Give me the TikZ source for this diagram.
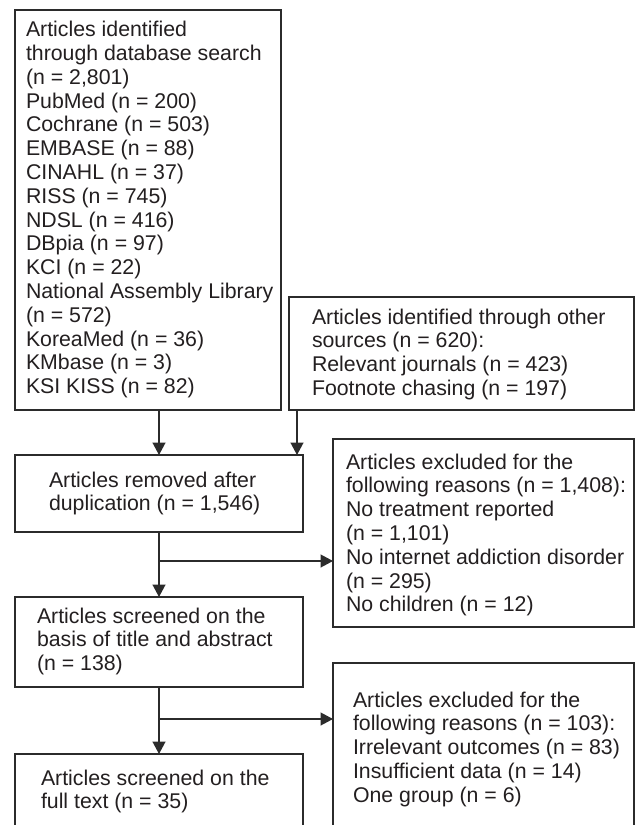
\documentclass[tikz,border=0pt]{standalone}
\usepackage{fontspec}
\setmainfont{Liberation Sans}
\usetikzlibrary{arrows.meta}
\definecolor{linec}{HTML}{2B2B2B}
\definecolor{textc}{HTML}{231F20}
\newcommand{\myst}{\rule{0pt}{16pt}}
\begin{document}
\begin{tikzpicture}[x=1pt,y=-1pt,
  box/.style={draw=linec, line width=1.3pt, rectangle, inner sep=0pt, outer sep=0pt, anchor=north west},
  txt/.style={anchor=north west, inner sep=0pt, outer sep=0pt, align=left, text=textc, font=\fontsize{21.3}{23.8}\selectfont},
  conn/.style={draw=linec, line width=1.3pt, -{Triangle[width=13pt,length=12.5pt]}}]
\clip (0,0) rectangle (635,825);
\fill[white] (0,0) rectangle (635,825);
% boxes
\node[box, minimum width=266pt, minimum height=400pt] (b1) at (15,10) {};
\node[box, minimum width=345pt, minimum height=113pt] (b2) at (289,297) {};
\node[box, minimum width=288pt, minimum height=77pt] (b3) at (15,455) {};
\node[box, minimum width=301pt, minimum height=188pt] (b4) at (333,439) {};
\node[box, minimum width=288pt, minimum height=90pt] (b5) at (15,597) {};
\node[box, minimum width=288pt, minimum height=120pt] (b6) at (15,754) {};
\node[box, minimum width=301pt, minimum height=190pt] (b7) at (333,663) {};
% texts
\node[txt] (t1) at (26,20.7) {\myst Articles identified\\through database search\\(n = 2,801)\\PubMed (n = 200)\\Cochrane (n = 503)\\EMBASE (n = 88)\\CINAHL (n = 37)\\RISS (n = 745)\\NDSL (n = 416)\\DBpia (n = 97)\\KCI (n = 22)\\National Assembly Library\\(n = 572)\\KoreaMed (n = 36)\\KMbase (n = 3)\\KSI KISS (n = 82)};
\node[txt] (t2) at (312,308) {\myst Articles identified through other\\sources (n = 620):\\Relevant journals (n = 423)\\Footnote chasing (n = 197)};
\node[txt] (t3) at (49,471) {\myst Articles removed after\\duplication (n = 1,546)};
\node[txt] (t4) at (346,453) {\myst Articles excluded for the\\following reasons (n = 1,408):\\No treatment reported\\(n = 1,101)\\No internet addiction disorder\\(n = 295)\\No children (n = 12)};
\node[txt] (t5) at (37,607) {\myst Articles screened on the\\basis of title and abstract\\(n = 138)};
\node[txt] (t6) at (41,769) {\myst Articles screened on the\\full text (n = 35)};
\node[txt] (t7) at (353,691) {\myst Articles excluded for the\\following reasons (n = 103):\\Irrelevant outcomes (n = 83)\\Insufficient data (n = 14)\\One group (n = 6)};
% connectors
\draw[conn] (b3.north |- b1.south) -- (b3.north);
\coordinate (a2) at ([xshift=8pt]b2.south west);
\draw[conn] (a2) -- (a2 |- b3.north);
\draw[conn] (b3.south) -- (b5.north);
\coordinate (j1) at (b3.south |- 0,561);
\draw[conn] (j1) -- (j1 -| b4.west);
\draw[conn] (b5.south) -- (b6.north);
\coordinate (j2) at (b5.south |- 0,719);
\draw[conn] (j2) -- (j2 -| b7.west);
\end{tikzpicture}
\end{document}
